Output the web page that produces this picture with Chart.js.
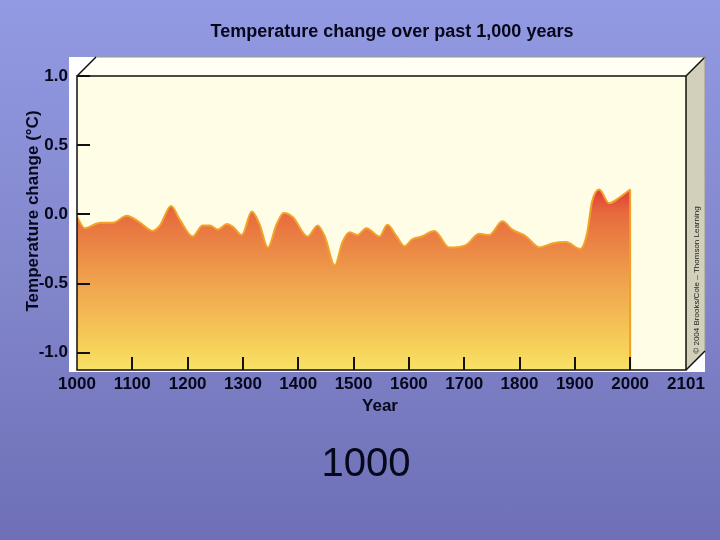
<!DOCTYPE html>
<html>
<head>
<meta charset="utf-8">
<script src="https://cdn.jsdelivr.net/npm/chart.js@4/dist/chart.umd.min.js"></script>
<style>
  html, body { margin: 0; padding: 0; }
  body { width: 720px; height: 540px; overflow: hidden; background: linear-gradient(#929ae3, #8387cc 50%, #6e6fb6); }
</style>
</head>
<body>
<canvas id="grafico" width="720" height="540"></canvas>
<script>
// Dados (ano, variação de temperatura em °C)
const anos = [1000, 1014, 1042, 1065, 1090, 1114, 1137, 1150, 1170, 1186, 1209, 1227, 1240, 1255, 1271, 1282,
  1298, 1316, 1330, 1345, 1361, 1374, 1390, 1417, 1435, 1448, 1466, 1480, 1493, 1507, 1523, 1547, 1561,
  1578, 1592, 1606, 1623, 1646, 1673, 1704, 1727, 1745, 1769, 1787, 1812, 1836, 1859, 1884, 1910, 1922,
  1931, 1944, 1962, 1980, 2000];
const temperaturas = [-0.02, -0.10, -0.06, -0.06, -0.01, -0.06, -0.12, -0.08, 0.06, -0.04, -0.16, -0.08, -0.08, -0.11, -0.07, -0.09,
  -0.15, 0.02, -0.07, -0.24, -0.07, 0.01, -0.02, -0.16, -0.08, -0.16, -0.37, -0.20, -0.13, -0.15, -0.10, -0.16, -0.075,
  -0.16, -0.23, -0.18, -0.16, -0.12, -0.24, -0.22, -0.14, -0.15, -0.05, -0.11, -0.16, -0.24, -0.21, -0.20, -0.25, -0.14,
  0.09, 0.18, 0.08, 0.12, 0.18];
const ticksX = [1000, 1100, 1200, 1300, 1400, 1500, 1600, 1700, 1800, 1900, 2000, 2101];
const ticksY = [-1.0, -0.5, 0.0, 0.5, 1.0];

const titulo = 'Temperature change over past 1,000 years';
const tituloY = 'Temperature change (°C)';
const tituloX = 'Year';
const copyright = '© 2004 Brooks/Cole – Thomson Learning';
const anoAtual = '1000';

const fonte = 'Arial, "Liberation Sans", sans-serif';
const corTexto = '#07071c';

// Gradiente vermelho -> amarelo da área
function gradienteArea(context) {
  const chart = context.chart;
  const { ctx, chartArea, scales } = chart;
  if (!chartArea) return null;
  const topo = scales.y.getPixelForValue(0.2);
  const g = ctx.createLinearGradient(0, topo, 0, chartArea.bottom);
  g.addColorStop(0, '#df3636');
  g.addColorStop(0.14, '#e76a3d');
  g.addColorStop(0.5, '#efa04d');
  g.addColorStop(0.9, '#f7d45b');
  g.addColorStop(1, '#f9e266');
  return g;
}

// Caixa 3D, marcas internas e textos
const caixa3d = {
  id: 'caixa3d',
  beforeDraw(chart) {
    const { ctx, chartArea: a } = chart;
    const d = 19;
    ctx.save();
    ctx.fillStyle = '#ffffff';
    ctx.fillRect(a.left - 8, a.top - d, a.right + d - a.left + 8, a.bottom + 2 - a.top + d);
    // face de cima
    ctx.fillStyle = '#fffff3';
    ctx.beginPath();
    ctx.moveTo(a.left, a.top);
    ctx.lineTo(a.left + d, a.top - d);
    ctx.lineTo(a.right + d, a.top - d);
    ctx.lineTo(a.right, a.top);
    ctx.closePath();
    ctx.fill();
    // face lateral
    ctx.fillStyle = '#d2d0ba';
    ctx.beginPath();
    ctx.moveTo(a.right, a.top);
    ctx.lineTo(a.right + d, a.top - d);
    ctx.lineTo(a.right + d, a.bottom - d);
    ctx.lineTo(a.right, a.bottom);
    ctx.closePath();
    ctx.fill();
    // frente
    ctx.fillStyle = '#fffde6';
    ctx.fillRect(a.left, a.top, a.right - a.left, a.bottom - a.top);
    ctx.restore();
  },
  afterDatasetsDraw(chart) {
    const { ctx, chartArea: a, scales } = chart;
    const d = 19;
    ctx.save();
    // borda direita da área
    const xf = scales.x.getPixelForValue(anos[anos.length - 1]);
    const yf = scales.y.getPixelForValue(temperaturas[temperaturas.length - 1]);
    ctx.strokeStyle = '#f0a024';
    ctx.lineWidth = 2;
    ctx.beginPath();
    ctx.moveTo(xf, yf);
    ctx.lineTo(xf, a.bottom);
    ctx.stroke();

    // marcas internas
    ctx.strokeStyle = '#111111';
    ctx.lineWidth = 2;
    ticksX.forEach(v => {
      if (v === ticksX[0] || v === ticksX[ticksX.length - 1]) return;
      const x = Math.round(scales.x.getPixelForValue(v));
      ctx.beginPath();
      ctx.moveTo(x, a.bottom);
      ctx.lineTo(x, a.bottom - 13);
      ctx.stroke();
    });
    ticksY.forEach(v => {
      const y = Math.round(scales.y.getPixelForValue(v));
      ctx.beginPath();
      ctx.moveTo(a.left, y);
      ctx.lineTo(a.left + 13, y);
      ctx.stroke();
    });

    // contornos
    ctx.lineWidth = 1.5;
    ctx.strokeStyle = '#111111';
    ctx.strokeRect(a.left, a.top, a.right - a.left, a.bottom - a.top);
    ctx.beginPath();
    ctx.moveTo(a.left, a.top); ctx.lineTo(a.left + d, a.top - d);
    ctx.moveTo(a.right, a.top); ctx.lineTo(a.right + d, a.top - d);
    ctx.moveTo(a.right, a.bottom); ctx.lineTo(a.right + d, a.bottom - d);
    ctx.stroke();
    ctx.lineWidth = 1;
    ctx.strokeStyle = '#9a9a8c';
    ctx.beginPath();
    ctx.moveTo(a.left + d, a.top - d); ctx.lineTo(a.right + d, a.top - d);
    ctx.lineTo(a.right + d, a.bottom - d);
    ctx.stroke();

    // copyright na face lateral
    ctx.fillStyle = '#222222';
    ctx.font = '8px ' + fonte;
    ctx.textAlign = 'center';
    ctx.textBaseline = 'middle';
    ctx.translate(a.right + d / 2 + 1, 280);
    ctx.rotate(-Math.PI / 2);
    ctx.fillText(copyright, 0, 0);
    ctx.restore();
  },
  afterDraw(chart) {
    const { ctx } = chart;
    ctx.save();
    ctx.fillStyle = corTexto;
    ctx.textAlign = 'center';
    ctx.textBaseline = 'middle';
    ctx.font = 'bold 18px ' + fonte;
    ctx.fillText(titulo, 392, 32);
    ctx.font = 'bold 17px ' + fonte;
    ctx.fillText(tituloX, 380, 406);
    ctx.font = '40px ' + fonte;
    ctx.fillText(anoAtual, 366, 465);
    ctx.translate(33, 211);
    ctx.rotate(-Math.PI / 2);
    ctx.font = 'bold 17px ' + fonte;
    ctx.fillText(tituloY, 0, 0);
    ctx.restore();
  }
};

const ctx = document.getElementById('grafico').getContext('2d');

new Chart(ctx, {
  type: 'line',
  data: {
    labels: anos,
    datasets: [{
      label: 'Temperature change',
      data: anos.map((ano, i) => ({ x: ano, y: temperaturas[i] })),
      borderColor: '#f2a22a',
      borderWidth: 2,
      backgroundColor: gradienteArea,
      fill: 'start',
      pointRadius: 0,
      cubicInterpolationMode: 'monotone'
    }]
  },
  options: {
    responsive: false,
    animation: false,
    devicePixelRatio: 1,
    layout: { padding: { top: 76, right: 34, left: 0, bottom: 0 } },
    plugins: {
      legend: { display: false },
      title: { display: false },
      tooltip: { enabled: false }
    },
    scales: {
      x: {
        type: 'linear',
        min: 1000,
        max: 2101,
        grid: { display: false, drawTicks: false },
        border: { display: false },
        afterBuildTicks: (scale) => { scale.ticks = ticksX.map(v => ({ value: v })); },
        afterFit: (scale) => { scale.height = 170; },
        ticks: {
          autoSkip: false,
          maxRotation: 0,
          padding: 4,
          color: corTexto,
          font: { family: fonte, size: 17, weight: 'bold' },
          callback: (v) => String(v)
        }
      },
      y: {
        min: -1.125,
        max: 1.0,
        grid: { display: false, drawTicks: false },
        border: { display: false },
        afterBuildTicks: (scale) => { scale.ticks = ticksY.map(v => ({ value: v })); },
        afterFit: (scale) => { scale.width = 77; },
        ticks: {
          padding: 9,
          color: corTexto,
          font: { family: fonte, size: 17, weight: 'bold' },
          callback: (v) => v.toFixed(1)
        }
      }
    }
  },
  plugins: [caixa3d]
});
</script>
</body>
</html>
